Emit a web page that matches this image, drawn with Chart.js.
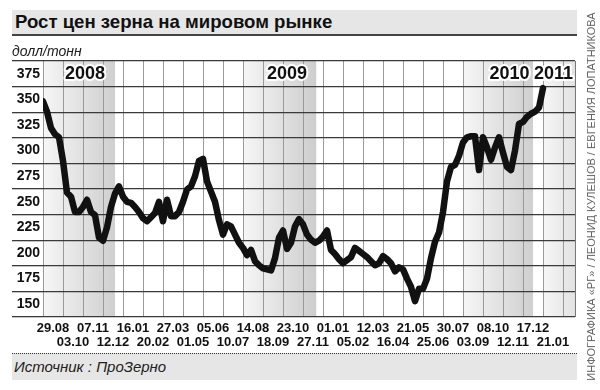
<!DOCTYPE html>
<html>
<head>
<meta charset="utf-8">
<script src="https://cdn.jsdelivr.net/npm/chart.js@4.4.1/dist/chart.umd.min.js"></script>
<style>
  body { margin: 0; background: #fff; font-family: "Liberation Sans", Arial, sans-serif; }
  #wrap { position: relative; width: 600px; height: 390px; overflow: hidden; }
  #chart { position: absolute; left: 0; top: 0; }
  .title { position: absolute; left: 12px; top: 10px; width: 565px; height: 26px; box-sizing: border-box;
           background: #e6e6e6; border-bottom: 2px solid #444; padding-left: 3px;
           font-weight: bold; font-size: 18.6px; line-height: 24px; color: #111; }
  .unit { position: absolute; left: 12px; top: 43px; font-style: italic; font-size: 14px; color: #222; }
  .source { position: absolute; left: 12px; top: 353px; width: 565px; height: 27px; box-sizing: border-box;
            background: #e6e6e6; border-top: 1px dotted #333; padding-left: 2px;
            font-style: italic; font-size: 15px; line-height: 26px; color: #222; }
  .credit { position: absolute; left: 405px; top: 190px; width: 373px; height: 13px; line-height: 13px;
            text-align: center; white-space: nowrap; font-size: 11px; color: #666;
            transform: rotate(-90deg); }
</style>
</head>
<body>
<div id="wrap">
  <canvas id="chart" width="600" height="390"></canvas>
  <div class="title">Рост цен зерна на мировом рынке</div>
  <div class="unit">долл/тонн</div>
  <div class="source">Источник : ПроЗерно</div>
  <div class="credit">ИНФОГРАФИКА «РГ» / ЛЕОНИД КУЛЕШОВ / ЕВГЕНИЯ ЛОПАТНИКОВА</div>
</div>
<script>
// weekly prices, 29.08.2008 .. 21.01.2011
const prices = [
  348, 338, 322, 316, 313, 290, 259, 255, 240, 240,
  245, 252, 240, 237, 215, 212, 225, 245, 258, 265,
  255, 250, 249, 245, 240, 234, 231, 235, 239, 250,
  231, 252, 236, 236, 240, 250, 262, 265, 275, 290,
  292, 270, 260, 250, 232, 218, 228, 226, 218, 210,
  205, 198, 203, 192, 188, 185, 184, 183, 195, 215,
  222, 204, 210, 226, 233, 228, 218, 213, 210, 212,
  216, 222, 203, 199, 194, 190, 193, 196, 205, 202,
  199, 196, 192, 188, 190, 197, 194, 190, 182, 186,
  184, 175, 167, 153, 165, 165, 175, 195, 211, 220,
  240, 270, 284, 286, 295, 308, 313, 314, 314, 281,
  313, 303, 291, 303, 313, 298, 284, 281, 300, 326,
  328, 333, 336, 338, 342, 361
];
// one label per 5-week column
const tickDates = ['29.08','03.10','07.11','12.12','16.01','20.02','27.03','01.05','05.06','10.07',
                   '14.08','18.09','23.10','27.11','01.01','05.02','12.03','16.04','21.05','25.06',
                   '30.07','03.09','08.10','12.11','17.12','21.01'];
const yTicks = [150, 175, 200, 225, 250, 275, 300, 325, 350, 375];
const years = ['2008', '2009', '2010', '2011'];
const yearWeeks = [10.5, 61, 116.6, 127.6];

const WEEKS_PER_COL = 5;
const X_MAX = 133;
const HALF_BAND = 12.5;

// gray year bands (in weeks)
const bands = [
  { from: 0,   to: 18,   c0: '#f6f6f6', c1: '#cfcfcf' },
  { from: 50,  to: 68.3, c0: '#f6f6f6', c1: '#cdcdcd' },
  { from: 105, to: 122.5, c0: '#f6f6f6', c1: '#cfcfcf' },
  { from: 125, to: 133,  c0: '#f6f6f6', c1: '#e2e2e2' },
];

const FONT = 'Liberation Sans';
const clear = 'rgba(0,0,0,0)';

const isColEdge = v => v % WEEKS_PER_COL === 0;
const isBandEdge = v => yTicks.indexOf(v) === -1;

const decor = {
  id: 'decor',
  beforeDraw(chart) {
    const { ctx, chartArea: a, scales: { x } } = chart;
    ctx.save();
    bands.forEach(b => {
      const x0 = x.getPixelForValue(b.from), x1 = x.getPixelForValue(b.to);
      const g = ctx.createLinearGradient(x0, 0, x1, 0);
      g.addColorStop(0, b.c0);
      g.addColorStop(1, b.c1);
      ctx.fillStyle = g;
      ctx.fillRect(x0, a.top, x1 - x0, a.bottom - a.top);
    });
    ctx.restore();
  },
  afterDraw(chart) {
    const { ctx, chartArea: a, scales: { x } } = chart;
    ctx.save();
    ctx.font = 'bold 18px "' + FONT + '"';
    ctx.textAlign = 'center';
    ctx.textBaseline = 'middle';
    ctx.lineJoin = 'round';
    years.forEach((t, i) => {
      const px = x.getPixelForValue(yearWeeks[i]);
      ctx.strokeStyle = '#fff';
      ctx.lineWidth = 4;
      ctx.strokeText(t, px, a.top + 13);
      ctx.fillStyle = '#111';
      ctx.fillText(t, px, a.top + 13);
    });
    ctx.restore();
  }
};

new Chart(document.getElementById('chart'), {
  type: 'line',
  data: {
    datasets: [{
      data: prices.map((p, i) => ({ x: i, y: p })),
      borderColor: '#111',
      borderWidth: 6.5,
      borderJoinStyle: 'round',
      borderCapStyle: 'round',
      pointRadius: 0,
      tension: 0,
    }]
  },
  options: {
    responsive: false,
    animation: false,
    devicePixelRatio: 1,
    layout: { padding: { top: 61, left: 12, right: 25, bottom: 37 } },
    plugins: { legend: { display: false }, tooltip: { enabled: false } },
    scales: {
      x: {
        type: 'linear', min: 0, max: X_MAX,
        afterBuildTicks: axis => {
          const t = [];
          tickDates.forEach((d, k) => {
            t.push({ value: k * WEEKS_PER_COL });
            t.push({ value: k * WEEKS_PER_COL + WEEKS_PER_COL / 2 });
          });
          t.push({ value: tickDates.length * WEEKS_PER_COL });
          t.push({ value: X_MAX });
          axis.ticks = t;
        },
        afterFit: axis => { axis.height = 36; },
        border: { display: false },
        grid: {
          drawTicks: false,
          lineWidth: 1,
          color: c => c.tick.value === X_MAX ? '#777' : (isColEdge(c.tick.value) ? '#9a9a9a' : clear),
        },
        ticks: {
          autoSkip: false, maxRotation: 0, padding: 5,
          color: '#111',
          font: { family: FONT, weight: 'bold', size: 13, lineHeight: 1.05 },
          callback: v => {
            if (isColEdge(v) || v === X_MAX) return '';
            const k = Math.round((v - WEEKS_PER_COL / 2) / WEEKS_PER_COL);
            return k % 2 === 0 ? [tickDates[k], ''] : ['', tickDates[k]];
          }
        }
      },
      y: {
        min: yTicks[0] - HALF_BAND, max: yTicks[yTicks.length - 1] + HALF_BAND,
        afterBuildTicks: axis => {
          const t = [];
          yTicks.forEach(v => { t.push({ value: v - HALF_BAND }); t.push({ value: v }); });
          t.push({ value: yTicks[yTicks.length - 1] + HALF_BAND });
          axis.ticks = t;
        },
        afterFit: axis => { axis.width = 31; },
        border: { display: false },
        grid: {
          tickLength: 31,
          lineWidth: 1.3,
          color: c => isBandEdge(c.tick.value) ? '#3a3a3a' : clear,
          tickColor: c => isBandEdge(c.tick.value) ? '#3a3a3a' : clear,
        },
        ticks: {
          autoSkip: false, padding: -28,
          color: '#111',
          font: { family: FONT, weight: 'bold', size: 14 },
          callback: v => isBandEdge(v) ? '' : String(v)
        }
      }
    }
  },
  plugins: [decor]
});
</script>
</body>
</html>
